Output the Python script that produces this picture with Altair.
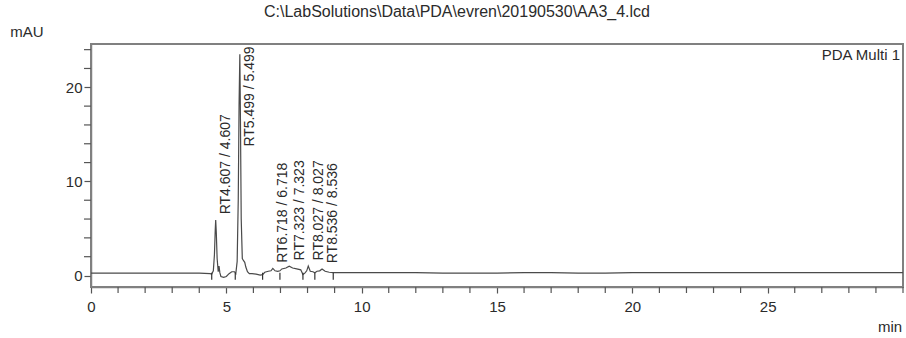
import altair as alt
import pandas as pd

# Chromatogram trace: retention time (min) and absorbance (mAU)
time_min = [0, 1, 2, 3, 4, 4.40, 4.46, 4.52, 4.56, 4.59, 4.607, 4.63, 4.66, 4.70, 4.73,
            4.76, 4.80, 4.90, 5.00, 5.10, 5.20, 5.30, 5.35, 5.40, 5.44, 5.47, 5.499,
            5.52, 5.55, 5.59, 5.63, 5.68, 5.72, 5.78, 5.85, 5.95, 6.10, 6.25, 6.34,
            6.42, 6.55, 6.65, 6.718, 6.80, 6.90, 6.98, 7.05, 7.20, 7.323, 7.45, 7.60,
            7.75, 7.83, 7.90, 7.97, 8.027, 8.10, 8.20, 8.27, 8.35, 8.45, 8.536, 8.65,
            8.80, 8.95, 9.20, 10, 11, 12, 13, 14, 15, 16, 17, 18, 19, 20, 21, 22, 23,
            24, 25, 26, 27, 28, 29, 30]
absorbance = [0.25, 0.25, 0.25, 0.25, 0.25, 0.2, 0.15, 0.5, 2.2, 4.8, 5.9, 4.5, 1.8, 0.4, 1.0,
              0.3, -0.1, -0.2, -0.1, 0.2, 0.4, 0.4, 0.2, 1.5, 8.0, 18.0, 23.5,
              17.0, 6.0, 1.8, 1.6, 1.4, 0.9, 0.4, 0.2, 0.2, 0.15, 0.05, 0.1,
              0.35, 0.45, 0.5, 0.75, 0.5, 0.45, 0.5, 0.7, 0.8, 1.0, 0.8, 0.7,
              0.6, 0.1, 0.25, 0.5, 1.0, 0.45, 0.4, 0.3, 0.45, 0.5, 0.7, 0.45,
              0.35, 0.3, 0.3, 0.3, 0.3, 0.3, 0.25, 0.25, 0.25, 0.3, 0.3, 0.25, 0.25, 0.3, 0.3, 0.3, 0.3,
              0.3, 0.3, 0.3, 0.3, 0.3, 0.3, 0.3]

# Identified peaks
peak_rt = [4.607, 5.499, 6.718, 7.323, 8.027, 8.536]
peak_height = [5.9, 23.5, 0.75, 1.0, 1.0, 0.7]
peak_text = ["RT4.607 / 4.607", "RT5.499 / 5.499", "RT6.718 / 6.718",
             "RT7.323 / 7.323", "RT8.027 / 8.027", "RT8.536 / 8.536"]

# Integration start/end markers
marker_rt = [4.46, 5.33, 6.34, 6.98, 7.83, 8.27, 8.95]

# Axis ticks: labelled major ticks and unlabelled minor ticks
x_major = [0, 5, 10, 15, 20, 25]
x_minor = [v for v in range(0, 31) if v not in x_major]
y_major = [0, 10, 20]
y_minor = [v for v in range(0, 25, 2) if v not in y_major]

FONT = "Liberation Sans"
AXIS_GRAY = "#808080"
TICK = "#555555"
TEXT = "#2b2b2b"

W, H = 812, 243
TICK_LEN = 6
label_ceiling = 13.7

trace = pd.DataFrame({"time": time_min, "mau": absorbance})
peaks = pd.DataFrame({"time": peak_rt, "height": peak_height, "label": peak_text})
peaks["label_y"] = (peaks["height"] + 0.6).clip(upper=label_ceiling)
markers = pd.DataFrame({"time": marker_rt, "top": 0.3, "bottom": -0.45})

x_scale = alt.Scale(domain=[0, 30], nice=False, zero=False)
y_scale = alt.Scale(domain=[-1.22, 24.6], nice=False, zero=False)

x_axis = alt.Axis(
    values=x_major, title=None, grid=False, tickSize=TICK_LEN, labelPadding=6,
    labelFont=FONT, labelFontSize=15, labelColor=TEXT, labelFlush=False,
    domainColor=AXIS_GRAY, domainWidth=1.5, tickColor=TICK, tickWidth=1.2,
)
y_axis = alt.Axis(
    values=y_major, title=None, grid=False, tickSize=TICK_LEN + 1, labelPadding=2,
    labelFont=FONT, labelFontSize=15, labelColor=TEXT,
    domainColor=AXIS_GRAY, domainWidth=1.5, tickColor=TICK, tickWidth=1.2,
)

line = alt.Chart(trace).mark_line(color="#4a4a4a", strokeWidth=1.2).encode(
    x=alt.X("time:Q", scale=x_scale, axis=x_axis),
    y=alt.Y("mau:Q", scale=y_scale, axis=y_axis),
)

# Minor ticks drawn just outside the plot frame
x_minor_ticks = alt.Chart(pd.DataFrame({"v": x_minor})).mark_rule(
    color=TICK, strokeWidth=1.2
).encode(x="v:Q", y=alt.value(H), y2=alt.value(H + TICK_LEN))
y_minor_ticks = alt.Chart(pd.DataFrame({"v": y_minor})).mark_rule(
    color=TICK, strokeWidth=1.2
).encode(y="v:Q", x=alt.value(-(TICK_LEN + 1)), x2=alt.value(0))

ticks = alt.Chart(markers).mark_rule(color="#333", strokeWidth=1.2).encode(
    x="time:Q", y="top:Q", y2="bottom:Q"
)

labels = alt.Chart(peaks).mark_text(
    angle=270, align="left", baseline="middle", dy=10.5,
    font=FONT, fontSize=14, color=TEXT,
).encode(x="time:Q", y="label_y:Q", text="label:N")


def note(text, x, y, align="center", size=15):
    return alt.Chart(pd.DataFrame({"t": [text]})).mark_text(
        align=align, baseline="middle", font=FONT, fontSize=size, color=TEXT
    ).encode(text="t:N", x=alt.value(x), y=alt.value(y))


file_title = note("C:\\LabSolutions\\Data\\PDA\\evren\\20190530\\AA3_4.lcd", 366, -32, size=16)
unit_y = note("mAU", -64, -12)
unit_x = note("min", 799, 283)
channel = note("PDA Multi 1", 809, 11, align="right")

chart = alt.layer(
    line, x_minor_ticks, y_minor_ticks, ticks, labels,
    file_title, unit_y, unit_x, channel,
).properties(
    width=W, height=H,
    autosize=alt.AutoSizeParams(type="none"),
    padding={"left": 91, "top": 44, "right": 3, "bottom": 51},
    background="white",
).configure_view(stroke=AXIS_GRAY, strokeWidth=2)

chart.save("out.html", embed_options={"renderer": "svg", "actions": False})
